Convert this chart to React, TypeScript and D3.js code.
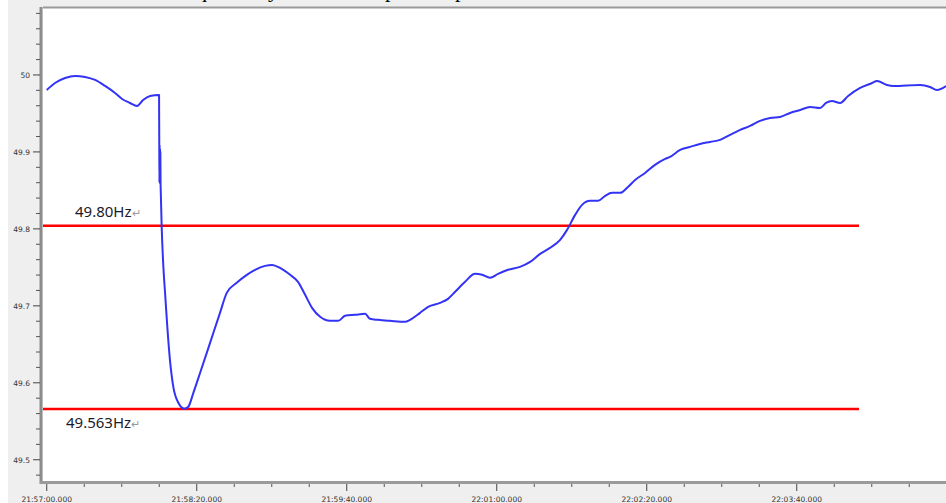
import React from "react";
import * as d3 from "d3";

// seconds after 21:57:00
const times: number[] = [
  0, 4.4, 9.8, 15.1, 20.4, 25.8, 31.1, 36.4, 40.2, 44.4, 48.2, 51.4, 55.1, 59.9,
  60.0, 60.1, 60.2, 60.3, 60.4, 60.5, 60.6, 60.7, 60.8, 61.3, 62.2, 63.1, 64.3, 65.7, 67.5, 70.2, 73.4, 75.5,
  78.2, 81.8, 87.1, 92.4, 96.0, 101.3, 106.7, 111.1, 116.4, 120.2, 124.4, 129.8,
  134.0, 137.8, 141.5, 145.8, 151.1, 155.4, 159.1, 164.4, 169.8, 172.4, 176.7,
  183.1, 191.1, 193.8, 199.1, 203.4, 209.8, 214.0, 217.8, 223.1, 228.4, 232.2,
  236.4, 240.7, 246.0, 252.4, 257.8, 263.1, 268.4, 273.8, 277.5, 281.8, 285.5,
  289.8, 294.0, 297.8, 301.5, 305.8, 310.0, 313.8, 319.1, 324.4, 329.8, 332.4,
  337.8, 343.1, 348.4, 353.8, 359.1, 364.4, 369.8, 375.1, 380.4, 385.8, 391.1,
  396.4, 401.8, 407.1, 412.4, 415.6, 418.8, 423.1, 427.4, 433.8, 440.2, 442.8,
  448.2, 451.4, 465.8, 471.1, 474.8, 479.6,
];
const freq: number[] = [
  49.9805, 49.9896, 49.9961, 49.9987, 49.9974, 49.9935, 49.9857, 49.9766,
  49.9688, 49.9636, 49.9597, 49.9675, 49.9727, 49.974,
  49.9156, 49.8597, 49.9091, 49.861, 49.905, 49.865, 49.9, 49.86, 49.85,
  49.8026, 49.7506, 49.7169, 49.6727, 49.6299, 49.5948,
  49.574, 49.5662, 49.5688, 49.587, 49.613, 49.6519, 49.6909, 49.7169, 49.7299,
  49.7403, 49.7468, 49.7519, 49.7532, 49.7494, 49.7403, 49.7312, 49.7143,
  49.6974, 49.6857, 49.6805, 49.6805, 49.687, 49.6883, 49.6896, 49.6831,
  49.6818, 49.6805, 49.6792, 49.6818, 49.6909, 49.6987, 49.7039, 49.7091,
  49.7182, 49.7312, 49.7416, 49.7403, 49.7364, 49.7416, 49.7468, 49.7506,
  49.7571, 49.7675, 49.7753, 49.7857, 49.7987, 49.8182, 49.8312, 49.8364,
  49.8364, 49.8429, 49.8468, 49.8468, 49.8545, 49.8636, 49.8727, 49.8831,
  49.8909, 49.8935, 49.9026, 49.9065, 49.9104, 49.913, 49.9156, 49.9221,
  49.9286, 49.9338, 49.9403, 49.9442, 49.9455, 49.9506, 49.9545, 49.9584,
  49.9571, 49.9636, 49.9662, 49.9636, 49.9727, 49.9831, 49.9896, 49.9922,
  49.987, 49.9857, 49.987, 49.9844, 49.9805, 49.9857,
];

const refValues: number[] = [49.804, 49.566];
const refLabels: string[] = ["49.80Hz", "49.563Hz"];

const yMajorTicks: number[] = [49.5, 49.6, 49.7, 49.8, 49.9, 50.0];
const yTickLabels: string[] = ["49.5", "49.6", "49.7", "49.8", "49.9", "50"];
const xMajorTicks: number[] = [0, 80, 160, 240, 320, 400];
const xTickLabels: string[] = [
  "21:57:00.000", "21:58:20.000", "21:59:40.000",
  "22:01:00.000", "22:02:20.000", "22:03:40.000",
];
const captionGlyphs: string[] = ["q", "y", "p", "p"];
const captionPos: number[] = [196, 268, 385, 455];

export default function App() {
  const W = 946, H = 503;
  const left = 43, right = 946, top = 8, bottom = 482;
  const x = d3.scaleLinear().domain([-2, 479.6]).range([left, right]);
  const y = d3.scaleLinear().domain([49.4711, 50.087]).range([bottom, top]);

  const pts = times.map((t, i) => [t, freq[i]] as [number, number]);
  const line = d3.line<[number, number]>()
    .x((d) => x(d[0]))
    .y((d) => y(d[1]))
    .curve(d3.curveMonotoneX);

  const yMinor = d3.range(49.48, 50.085, 0.02).filter(
    (v) => !yMajorTicks.some((m) => Math.abs(m - v) < 1e-6)
  );
  const xMinor = d3.range(0, 480, 20).filter((v) => v % 80 !== 0);

  const tickFont = "'DejaVu Sans', sans-serif";

  return (
    <svg width={W} height={H} style={{ position: "absolute", left: 0, top: 0, display: "block" }}>
      <rect x={0} y={0} width={W} height={H} fill="#ffffff" />
      <rect x={8} y={0} width={W - 8} height={H} fill="#efefef" />
      {captionGlyphs.map((g, i) => (
        <text key={i} x={captionPos[i]} y={-3} fontFamily="'Liberation Serif', serif" fontSize={22} fill="#000">
          {g}
        </text>
      ))}
      <rect x={left} y={top} width={right - left} height={bottom - top} fill="#ffffff" />
      <defs>
        <clipPath id="plotclip">
          <rect x={left} y={top} width={right - left} height={bottom - top} />
        </clipPath>
      </defs>

      {/* frame */}
      <line x1={left} x2={right} y1={top - 0.5} y2={top - 0.5} stroke="#999" strokeWidth={2} />
      <line x1={left - 2} x2={left - 2} y1={top - 1} y2={bottom + 2} stroke="#8c8c8c" strokeWidth={3} />
      <line x1={left - 3} x2={right} y1={bottom + 0.5} y2={bottom + 0.5} stroke="#9a9a9a" strokeWidth={3} />

      {/* y ticks */}
      {yMinor.map((v, i) => (
        <line key={"ym" + i} x1={36} x2={40} y1={y(v)} y2={y(v)} stroke="#555" strokeWidth={1} />
      ))}
      {yMajorTicks.map((v, i) => (
        <g key={"yM" + i}>
          <line x1={33} x2={40} y1={y(v)} y2={y(v)} stroke="#444" strokeWidth={1} />
          <text x={30} y={y(v) + 3} textAnchor="end" fontFamily={tickFont} fontSize={7.5} fill="#333">
            {yTickLabels[i]}
          </text>
        </g>
      ))}

      {/* x ticks */}
      {xMinor.map((v, i) => (
        <line key={"xm" + i} x1={x(v)} x2={x(v)} y1={484} y2={487} stroke="#555" strokeWidth={1} />
      ))}
      {xMajorTicks.map((v, i) => (
        <g key={"xM" + i}>
          <line x1={x(v)} x2={x(v)} y1={484} y2={491} stroke="#444" strokeWidth={1} />
          <text x={x(v)} y={502} textAnchor="middle" fontFamily={tickFont} fontSize={7.5} fill="#333">
            {xTickLabels[i]}
          </text>
        </g>
      ))}

      {/* reference lines */}
      {refValues.map((v, i) => (
        <line key={"r" + i} x1={left} x2={859} y1={y(v)} y2={y(v)} stroke="#ff0000" strokeWidth={2.5} />
      ))}

      {/* frequency curve */}
      <path d={line(pts) || ""} fill="none" stroke="#3333f5" strokeWidth={2} strokeLinejoin="round" clipPath="url(#plotclip)" />

      {/* labels */}
      <text x={75} y={217} fontFamily="'Noto Sans', sans-serif" fontSize={15} fill="#1a1a2a">
        {refLabels[0]}
        <tspan fill="#999" fontSize={11}>↵</tspan>
      </text>
      <text x={66} y={428} fontFamily="'Noto Sans', sans-serif" fontSize={15} fill="#1a1a2a">
        {refLabels[1]}
        <tspan fill="#999" fontSize={11}>↵</tspan>
      </text>
    </svg>
  );
}
